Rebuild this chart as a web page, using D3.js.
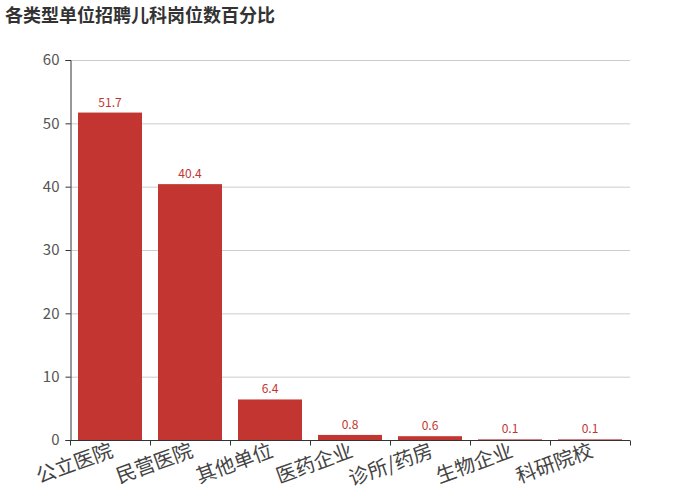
<!DOCTYPE html>
<html><head><meta charset="utf-8">
<script src="https://cdn.jsdelivr.net/npm/d3@7"></script>
<style>body{margin:0;background:#fff;font-family:"Noto Sans CJK SC","Noto Sans",sans-serif;}</style>
</head><body>
<svg id="c" width="700" height="500"></svg>
<script>
const categories = ["公立医院","民营医院","其他单位","医药企业","诊所/药房","生物企业","科研院校"];
const values = [51.7, 40.4, 6.4, 0.8, 0.6, 0.1, 0.1];
const yTicks = [0,10,20,30,40,50,60];
const title = "各类型单位招聘儿科岗位数百分比";

const svg = d3.select("#c");
const m = {l:70, r:70, t:60, b:60};
const W = 700, H = 500;
const xAxisScale = d3.scaleBand().domain(categories).range([m.l, W-m.r]);
const y = d3.scaleLinear().domain([0,60]).range([H-m.b, m.t]);
const font = '"Noto Sans CJK SC","Noto Sans",sans-serif';

svg.append("text").attr("x",5).attr("y",22).text(title)
  .attr("font-size",18).attr("font-weight","bold").attr("fill","#333").attr("font-family",font);

// grid
svg.append("g").selectAll("line").data(yTicks.filter(d=>d>0)).join("line")
  .attr("x1",m.l).attr("x2",W-m.r).attr("y1",d=>y(d)+0.5).attr("y2",d=>y(d)+0.5)
  .attr("stroke","#ccc").attr("stroke-width",1);

// bars
const bw = xAxisScale.bandwidth()*0.8;
svg.append("g").selectAll("rect").data(values).join("rect")
  .attr("x",(d,i)=>xAxisScale(categories[i])+xAxisScale.bandwidth()*0.1)
  .attr("width",bw)
  .attr("y",d=>y(d)).attr("height",d=>y(0)-y(d))
  .attr("fill","#c23531");

svg.append("g").selectAll("text").data(values).join("text")
  .attr("x",(d,i)=>xAxisScale(categories[i])+xAxisScale.bandwidth()/2)
  .attr("y",d=>y(d)-6)
  .attr("text-anchor","middle").attr("font-size",12).attr("fill","#c23531")
  .attr("font-family",font).text(d=>d);

// y axis
const ya = svg.append("g").attr("transform",`translate(${m.l+0.5},0)`)
  .call(d3.axisLeft(y).tickValues(yTicks).tickSize(5).tickPadding(6));
ya.select(".domain").attr("stroke","#333");
ya.selectAll(".tick line").attr("stroke","#333");
ya.selectAll(".tick text").attr("font-size",15).attr("fill","#555").attr("font-family",font);

// x axis
const xa = svg.append("g").attr("transform",`translate(0,${y(0)+0.5})`);
xa.append("line").attr("x1",m.l).attr("x2",W-m.r).attr("stroke","#333");
const tickPos = categories.map(c=>xAxisScale(c)).concat([W-m.r]);
xa.selectAll("line.t").data(tickPos).join("line").attr("class","t")
  .attr("x1",d=>Math.round(d)+0.5).attr("x2",d=>Math.round(d)+0.5).attr("y1",0).attr("y2",5).attr("stroke","#333");
xa.selectAll("text").data(categories).join("text")
  .attr("transform",c=>`translate(${xAxisScale(c)+xAxisScale.bandwidth()/2+2},${9}) rotate(-20)`)
  .attr("text-anchor","end").attr("dy","0.35em")
  .attr("font-size",20).attr("fill","#444").attr("font-family",font).text(c=>c);
</script>
</body></html>
